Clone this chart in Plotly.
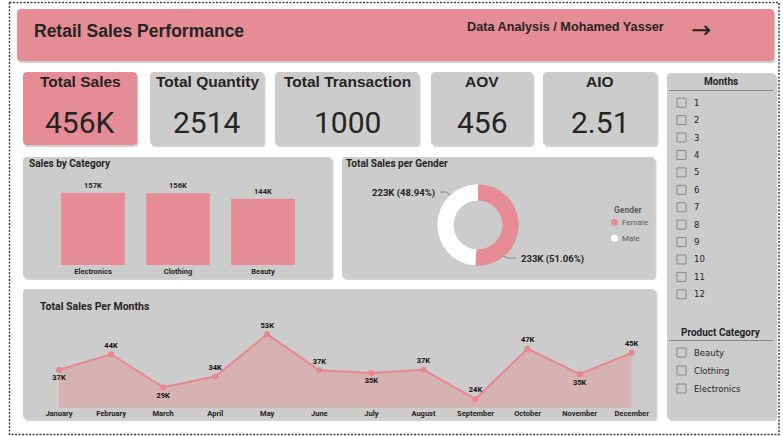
import plotly.graph_objects as go

W, H = 783, 436

# ---------------- data ----------------
kpi_total_sales = 456000
kpi_total_quantity = 2514
kpi_transactions = 1000

categories = ["Electronics", "Clothing", "Beauty"]
category_sales = [156905, 155580, 143515]

genders = ["Female", "Male"]
gender_sales = [232840, 223160]

months = ["January", "February", "March", "April", "May", "June", "July",
          "August", "September", "October", "November", "December"]
month_sales = [36980, 44060, 28990, 33870, 53150, 36715, 35465, 36960,
               23620, 46580, 34920, 44690]
month_label_pos = ["bottom center", "top center", "bottom center", "top center",
                   "top center", "top center", "bottom center", "top center",
                   "top center", "top center", "bottom center", "top center"]

month_slicer = [str(i) for i in range(1, 13)]
category_slicer = ["Beauty", "Clothing", "Electronics"]

# ---------------- styles ----------------
PINK = "#E68C94"
GRAY = "#CCCCCC"
DARK = "#252423"


def X(px):
    return px / W


def Y(py):
    return 1 - py / H


def rrect(x0, y0, x1, y1, r=4):
    return (f"M {X(x0 + r)},{Y(y0)} L {X(x1 - r)},{Y(y0)} Q {X(x1)},{Y(y0)} {X(x1)},{Y(y0 + r)} "
            f"L {X(x1)},{Y(y1 - r)} Q {X(x1)},{Y(y1)} {X(x1 - r)},{Y(y1)} "
            f"L {X(x0 + r)},{Y(y1)} Q {X(x0)},{Y(y1)} {X(x0)},{Y(y1 - r)} "
            f"L {X(x0)},{Y(y0 + r)} Q {X(x0)},{Y(y0)} {X(x0 + r)},{Y(y0)} Z")


shapes = []
annotations = []


def panel(x0, y0, x1, y1, color):
    shapes.append(dict(type="path", path=rrect(x0 + 1.5, y0 + 2, x1 + 1.5, y1 + 2), xref="paper", yref="paper",
                       fillcolor="rgba(0,0,0,0.18)", line=dict(width=0), layer="below"))
    shapes.append(dict(type="path", path=rrect(x0, y0, x1, y1), xref="paper", yref="paper",
                       fillcolor=color, line=dict(width=0), layer="below"))


def text(x, y, s, size, color=DARK, family="Roboto", weight="normal", xanchor="center"):
    annotations.append(dict(x=X(x), y=Y(y), xref="paper", yref="paper", text=s, showarrow=False,
                            xanchor=xanchor, yanchor="middle",
                            font=dict(size=size, color=color, family=family, weight=weight)))


# outer dotted border
shapes.append(dict(type="rect", x0=X(9.5), x1=X(779), y0=Y(2.5), y1=Y(434.5), xref="paper", yref="paper",
                   line=dict(color="#444444", width=1.5, dash="2px,1.5px"), layer="below"))

# header
panel(17, 9, 774, 61, PINK)
text(32, 31, "Retail Sales Performance", 17.5, family="Liberation Sans, Arial", weight="bold", xanchor="left")
text(465, 27.5, "Data Analysis / Mohamed Yasser", 12.7,
     family="Liberation Sans Narrow, Arial Narrow, Liberation Sans", weight="bold", xanchor="left")
text(701, 30, "→", 24, family="DejaVu Sans")

# KPI cards
aov = kpi_total_sales / kpi_transactions
aio = kpi_total_quantity / kpi_transactions
cards = [
    (23, 137, PINK, "Total Sales", f"{round(kpi_total_sales / 1000)}K"),
    (150, 264, GRAY, "Total Quantity", f"{kpi_total_quantity}"),
    (275, 419, GRAY, "Total Transaction", f"{kpi_transactions}"),
    (431, 533, GRAY, "AOV", f"{aov:.0f}"),
    (543, 657, GRAY, "AIO", f"{aio:.2f}"),
]
for x0, x1, col, title, val in cards:
    panel(x0, 72, x1, 145, col)
    cx = (x0 + x1) / 2
    text(cx, 82, title, 15.5, family="Liberation Sans, Arial", weight="bold")
    text(cx, 122, val, 30, family="Roboto")

# panels
panel(23, 157, 332, 278, GRAY)
panel(342, 157, 655, 278, GRAY)
panel(23, 289, 656, 419, GRAY)
panel(667, 73, 776, 419, GRAY)

text(27, 164, "Sales by Category", 10, weight="bold", xanchor="left")
text(344, 164, "Total Sales per Gender", 10, weight="bold", xanchor="left")
text(38, 306, "Total Sales Per Months", 10.5, weight="bold", xanchor="left")

# slicer
text(720.5, 81.5, "Months", 10, weight="bold")
shapes.append(dict(type="line", x0=X(669), x1=X(773), y0=Y(90.5), y1=Y(90.5), xref="paper", yref="paper",
                   line=dict(color="#8A8886", width=1)))
for i, m in enumerate(month_slicer):
    yy = 102.7 + i * 17.42
    shapes.append(dict(type="rect", x0=X(677), x1=X(686), y0=Y(yy - 4.5), y1=Y(yy + 4.5),
                       xref="paper", yref="paper", line=dict(color="#8A8886", width=1)))
    text(692, yy, m, 8.5, family="DejaVu Sans", xanchor="left")

text(720.5, 332, "Product Category", 10, weight="bold")
shapes.append(dict(type="line", x0=X(669), x1=X(773), y0=Y(340.5), y1=Y(340.5), xref="paper", yref="paper",
                   line=dict(color="#8A8886", width=1)))
for i, c in enumerate(category_slicer):
    yy = 352.5 + i * 18
    shapes.append(dict(type="rect", x0=X(677), x1=X(686), y0=Y(yy - 4.5), y1=Y(yy + 4.5),
                       xref="paper", yref="paper", line=dict(color="#8A8886", width=1)))
    text(692, yy, c, 8.5, family="DejaVu Sans", xanchor="left")

fig = go.Figure()

# ---------------- bar chart ----------------
fig.add_trace(go.Bar(
    x=categories, y=category_sales, marker=dict(color=PINK, line=dict(width=0)),
    text=[f"{round(v / 1000)}K" for v in category_sales], textposition="outside",
    textfont=dict(size=7.5, color=DARK, family="Roboto", weight="bold"),
    cliponaxis=False, xaxis="x", yaxis="y", showlegend=False, hoverinfo="skip"))

# ---------------- donut ----------------
cx, cy, r = 478, 225, 40.7
fig.add_trace(go.Pie(
    labels=genders, values=gender_sales, hole=0.6, sort=False, direction="clockwise", rotation=0,
    marker=dict(colors=[PINK, "#FFFFFF"], line=dict(width=0)), textinfo="none",
    domain=dict(x=[X(cx - r), X(cx + r)], y=[Y(cy + r), Y(cy - r)]), showlegend=False, hoverinfo="skip"))
tot = sum(gender_sales)
lbl = {g: f"{round(v / 1000)}K ({v / tot * 100:.2f}%)" for g, v in zip(genders, gender_sales)}
text(437, 193, lbl["Male"], 9.5, weight="bold", xanchor="right")
text(519, 259, lbl["Female"], 9.5, weight="bold", xanchor="left")
shapes.append(dict(type="path", path=f"M {X(440)},{Y(192)} L {X(446)},{Y(192)} L {X(450)},{Y(195)}",
                   xref="paper", yref="paper", line=dict(color="#8A8886", width=1)))
shapes.append(dict(type="path", path=f"M {X(503)},{Y(256)} L {X(508)},{Y(258)} L {X(516)},{Y(258)}",
                   xref="paper", yref="paper", line=dict(color="#8A8886", width=1)))
text(612, 210, "Gender", 8.5, color="#605E5C", weight="bold", xanchor="left")
for i, (g, col) in enumerate(zip(genders, [PINK, "#FFFFFF"])):
    yy = 222.3 + i * 16
    shapes.append(dict(type="circle", x0=X(611), x1=X(618), y0=Y(yy - 3.5), y1=Y(yy + 3.5),
                       xref="paper", yref="paper", fillcolor=col, line=dict(width=0)))
    text(620, yy, g, 8, color="#605E5C", xanchor="left")

# ---------------- line / area ----------------
fig.add_trace(go.Scatter(
    x=months, y=month_sales, mode="lines+markers+text", fill="tozeroy",
    fillcolor="rgba(230,140,148,0.40)", line=dict(color="#E8878F", width=2),
    marker=dict(size=6, color="#E8878F"),
    text=[f"{round(v / 1000)}K" for v in month_sales], textposition=month_label_pos,
    textfont=dict(size=7.5, color="#111111", family="Roboto", weight="bold"),
    cliponaxis=False, xaxis="x2", yaxis="y2", showlegend=False, hoverinfo="skip"))

fig.update_layout(
    width=W, height=H, margin=dict(l=0, r=0, t=0, b=0, pad=0, autoexpand=False),
    paper_bgcolor="white", plot_bgcolor="rgba(0,0,0,0)",
    bargap=0.25,
    xaxis=dict(domain=[X(50.5), X(305.5)], showgrid=False, zeroline=False, showline=False, ticks="",
               automargin=False,
               tickfont=dict(size=7.5, color=DARK, family="Roboto", weight="bold"), fixedrange=True),
    yaxis=dict(domain=[Y(265), Y(175)], range=[0, 195300], visible=False, fixedrange=True, automargin=False),
    xaxis2=dict(domain=[X(59), X(631.7)], range=[0, 11], showgrid=False, zeroline=False, showline=False,
                ticks="", anchor="y2", automargin=False,
                tickfont=dict(size=7.5, color=DARK, family="Roboto", weight="bold"), fixedrange=True),
    yaxis2=dict(domain=[Y(407.7), Y(320)], range=[19650, 59680], visible=False, anchor="x2",
                fixedrange=True, automargin=False),
    shapes=shapes, annotations=annotations,
)

fig.write_html("out.html")
